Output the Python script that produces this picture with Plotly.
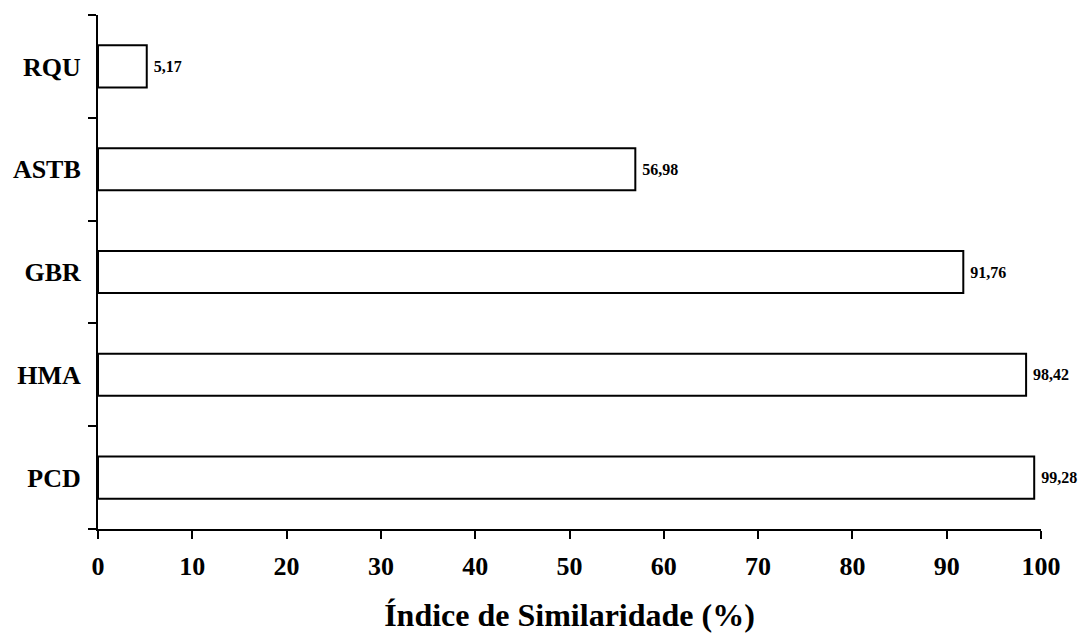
import plotly.graph_objects as go

categories = ["PCD", "HMA", "GBR", "ASTB", "RQU"]
values = [99.28, 98.42, 91.76, 56.98, 5.17]
x_ticks = [0, 10, 20, 30, 40, 50, 60, 70, 80, 90, 100]

labels = [f"{v:.2f}".replace(".", ",") for v in values]

font_family = "Liberation Serif, Times New Roman, serif"

fig = go.Figure(go.Bar(
    y=categories, x=values, orientation="h",
    marker=dict(color="white", line=dict(color="black", width=2)),
    width=0.41,
    text=labels, textposition="outside", cliponaxis=False,
    textfont=dict(family=font_family, size=16, color="black"),
    texttemplate="\u00a0<b>%{text}</b>",
))

fig.update_layout(
    width=1086, height=635,
    margin=dict(l=90, r=53, t=7, b=114),
    plot_bgcolor="white", paper_bgcolor="white",
    showlegend=False,
    font=dict(family=font_family, color="black"),
)
fig.update_xaxes(
    range=[0, 100], tickvals=x_ticks,
    ticktext=[f"<b>{t}</b>" for t in x_ticks],
    showline=True, linecolor="black", linewidth=2,
    ticks="outside", ticklen=8, tickwidth=2, tickcolor="black",
    ticklabelstandoff=5, automargin=False,
    showgrid=False, zeroline=False,
    tickfont=dict(family=font_family, size=26, color="black"),
    title=dict(text="<b>Índice de Similaridade (%)</b>",
               font=dict(family=font_family, size=32, color="black"),
               standoff=23),
)
fig.update_yaxes(
    type="category", categoryorder="array", categoryarray=categories,
    range=[-0.5, 4.5],
    tickvals=categories, ticktext=[f"<b>{c}</b>" for c in categories],
    tickson="boundaries",
    showline=True, linecolor="black", linewidth=2,
    ticks="outside", ticklen=8, tickwidth=2, tickcolor="black",
    ticklabelstandoff=10, automargin=False,
    showgrid=False, zeroline=False,
    tickfont=dict(family=font_family, size=26, color="black"),
)

fig.write_html("out.html")
